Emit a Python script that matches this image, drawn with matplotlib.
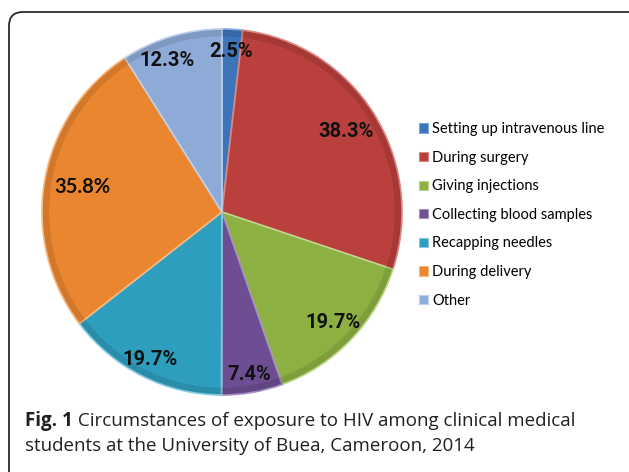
import matplotlib
matplotlib.use("Agg")
import numpy as np
import matplotlib.patches as patches
from matplotlib import pyplot as plt

# data, clockwise from 12 o'clock
categories = ["Setting up intravenous line", "During surgery", "Giving injections",
              "Collecting blood samples", "Recapping needles", "During delivery", "Other"]
values = [2.5, 38.3, 19.7, 7.4, 19.7, 35.8, 12.3]
value_labels = ["2.5%", "38.3%", "19.7%", "7.4%", "19.7%", "35.8%", "12.3%"]

colors = ["#3D74BA", "#B9403C", "#8DB043", "#6D4E92", "#2E9EBE", "#EB8630", "#8EABD8"]
edge_colors = ["#7FA6DA", "#D98784", "#BCD68A", "#A58CC2", "#86CCE0", "#F8B97F", "#BFD0EC"]
label_r = [0.88, 0.82, 0.86, 0.9, 0.9, 0.79, 0.88]
label_da = [0, 0, 0, 0, 0, 0, 4]   # small angular nudges (deg)

W, H = 629, 472
fig = plt.figure(figsize=(W / 100, H / 100), dpi=100)

# background axes in pixel coordinates
bg = fig.add_axes([0, 0, 1, 1])
bg.set_xlim(0, W)
bg.set_ylim(H, 0)
bg.axis("off")
frame = patches.FancyBboxPatch((9, 12), 700, 600, boxstyle="round,pad=0,rounding_size=14",
                               linewidth=1.3, edgecolor="#2b2b2b", facecolor="white")
bg.add_patch(frame)

cap_font = "Open Sans"
cap_size = 13.5
t1 = bg.text(25, 421, "Fig. 1", fontsize=cap_size, fontweight="bold", family=cap_font,
             color="#231f20", va="center", ha="left")
bg.annotate(" Circumstances of exposure to HIV among clinical medical", xy=(1, 0.5),
            xycoords=t1, va="center", ha="left", fontsize=cap_size, family=cap_font,
            color="#231f20")
bg.text(25, 446, "students at the University of Buea, Cameroon, 2014", fontsize=cap_size,
        family=cap_font, color="#231f20", va="center", ha="left")

# pie (slightly taller than wide, as in the original)
cx, cy, rx, ry = 222, 212, 180, 183
ax = fig.add_axes([(cx - rx) / W, 1 - (cy + ry) / H, 2 * rx / W, 2 * ry / H])
wedges, _ = ax.pie(values, colors=colors, startangle=90, counterclock=False,
                   wedgeprops=dict(linewidth=1.2))
for w, ec in zip(wedges, edge_colors):
    w.set_edgecolor(ec)
# darker rim for a slight bevel look
rim, _ = ax.pie(values, colors=["none"] * len(values), startangle=90, counterclock=False,
                radius=0.995, wedgeprops=dict(width=0.035, linewidth=0))
for w in rim:
    w.set_facecolor((0, 0, 0, 0.10))
ax.set_xlim(-1.0, 1.0)
ax.set_ylim(-1.0, 1.0)
ax.set_aspect("auto")

for w, lab, r, da in zip(wedges, value_labels, label_r, label_da):
    ang = np.deg2rad((w.theta1 + w.theta2) / 2 + da)
    x, y = r * np.cos(ang), r * np.sin(ang)
    if lab == "35.8%":
        ax.text(x, y, lab, ha="center", va="center", fontsize=14.5, fontweight="bold",
                family=["Lato", "DejaVu Sans"], color="#111111")
    else:
        ax.text(x, y, lab, ha="center", va="center", fontsize=14.5, fontweight="bold",
                family=["Roboto", "DejaVu Sans"], color="#111111")

handles = [patches.Patch(facecolor=c, edgecolor=ec, linewidth=0.8)
           for c, ec in zip(colors, edge_colors)]
fig.legend(handles, categories, loc="upper left", bbox_to_anchor=(406 / W, 1 - 109 / H),
           frameon=False, handlelength=0.6, handleheight=0.6,
           handletextpad=0.3, labelspacing=1.0, prop=dict(family="Lato", size=10.5))

fig.savefig("out.png", dpi=100)
